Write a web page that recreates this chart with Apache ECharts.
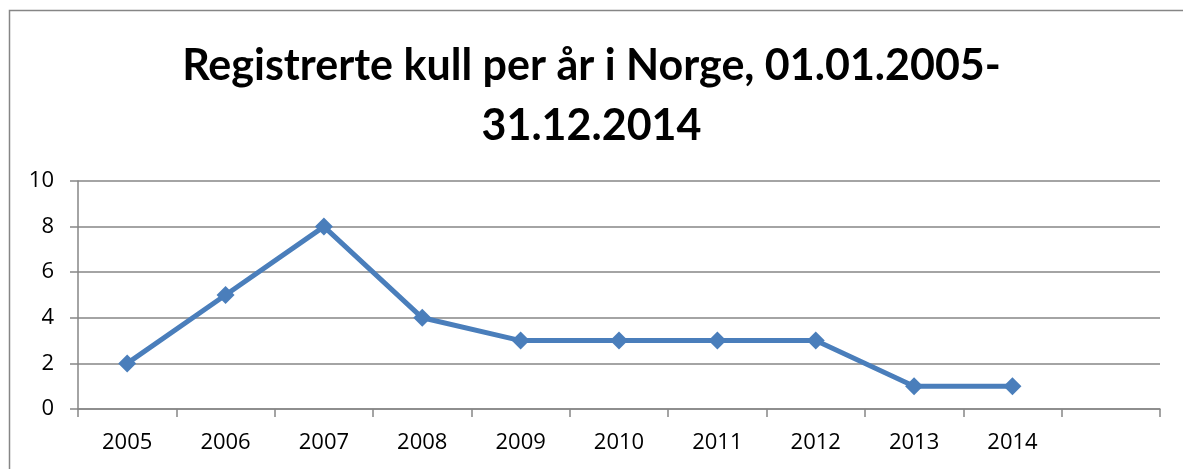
<!DOCTYPE html>
<html>
<head>
<meta charset="utf-8">
<script src="https://cdn.jsdelivr.net/npm/echarts@6/dist/echarts.min.js"></script>
<style>
html,body{margin:0;padding:0;background:#fff;}
#c{width:1183px;height:469px;}
</style>
</head>
<body>
<div id="c"></div>
<script>
const titleText = 'Registrerte kull per år i Norge, 01.01.2005-\n31.12.2014';
const categories = ['2005','2006','2007','2008','2009','2010','2011','2012','2013','2014',''];
const values = [2,5,8,4,3,3,3,3,1,1,null];
const yTicks = {min:0, max:10, interval:2};

const chart = echarts.init(document.getElementById('c'));
chart.setOption({
  animation:false,
  backgroundColor:'#fff',
  graphic:[{type:'rect', shape:{x:9.5,y:10.5,width:1300,height:600}, style:{fill:'none', stroke:'#868686', lineWidth:1.5}, silent:true}],
  title:{
    text:titleText, left:'center', top:31,
    textStyle:{fontFamily:'Lato, "Open Sans", sans-serif', fontWeight:'bold', fontSize:43, lineHeight:60, color:'#000'}
  },
  grid:{left:78, right:23, top:181, bottom:60, containLabel:false},
  xAxis:{
    type:'category', data:categories, boundaryGap:true,
    axisLine:{lineStyle:{color:'#868686', width:1.5}},
    axisTick:{show:true, length:8, alignWithLabel:false, lineStyle:{color:'#868686', width:1.5}},
    axisLabel:{color:'#000', fontSize:22, fontFamily:'"Open Sans", Lato, sans-serif', margin:23, interval:0}
  },
  yAxis:{
    type:'value', min:yTicks.min, max:yTicks.max, interval:yTicks.interval,
    axisLine:{show:true, lineStyle:{color:'#868686', width:1.5}},
    axisTick:{show:true, length:8, lineStyle:{color:'#868686', width:1.5}},
    axisLabel:{color:'#000', fontSize:22, fontFamily:'"Open Sans", Lato, sans-serif', margin:24},
    splitLine:{lineStyle:{color:'#868686', width:1.5}}
  },
  series:[{
    type:'line', data:values,
    symbol:'diamond', symbolSize:18,
    lineStyle:{color:'#4a7ebb', width:5},
    itemStyle:{color:'#4a7ebb'}
  }]
});
</script>
</body>
</html>
